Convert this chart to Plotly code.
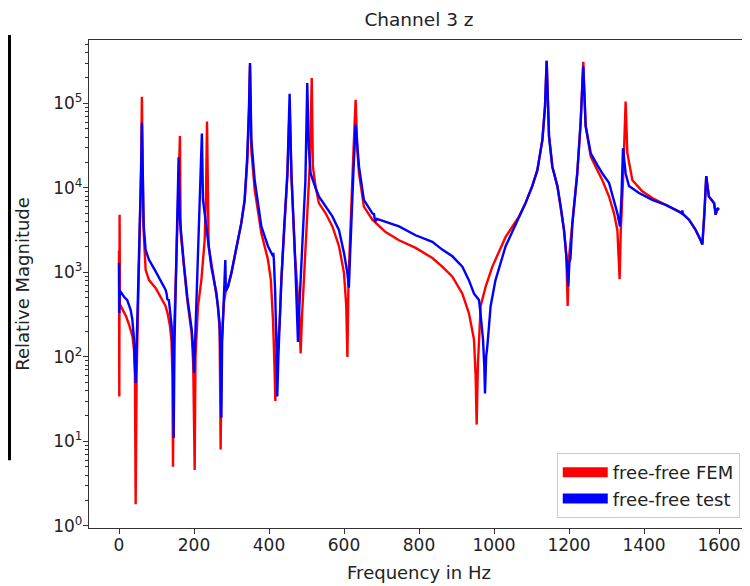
import plotly.graph_objects as go

# ---- data (frequency in Hz, relative magnitude) ----
fem_freq = [0, 0.8, 1.6, 2.4, 5, 10, 19, 27, 36, 40, 42.5, 44.4, 47, 52, 56, 59, 61, 63, 65, 71, 80, 98,
            115.6, 124, 129.5, 136, 140, 142.5, 144, 147, 152, 157, 160, 162.5, 164.4, 173, 182, 193.8,
            198, 201.8, 204, 210.7, 219.6, 228.4, 232, 234.7, 237, 239, 250.7, 264, 268.4, 271, 274, 280,
            286, 290.7, 299.6, 312.9, 326, 335, 342, 346.7, 349.3, 352.9, 361.8, 379.6, 397.3, 405, 411,
            414.5, 416.9, 420, 428.4, 432.9, 440, 449, 455, 460, 468.4, 476, 481, 484.4, 488, 495, 503,
            509, 514, 517, 524, 533, 551, 569, 586.7, 600, 606, 609, 612, 618, 624, 631, 635.6, 640, 653,
            675.6, 711, 746.7, 791, 835.6, 862, 889, 915.6, 933, 946.7, 951, 953.8, 957, 964.4, 977.8,
            995.6, 1031, 1067, 1084, 1102, 1115.6, 1129, 1136, 1140.4, 1146.7, 1155.6, 1169, 1178, 1186.7,
            1193, 1196.4, 1200, 1209, 1222, 1231, 1238, 1244.4, 1258, 1275.6, 1289, 1306.7, 1320, 1329,
            1333, 1335, 1338, 1344, 1351, 1355.6, 1369, 1395.6, 1422, 1458, 1493, 1502, 1520, 1538, 1551,
            1555.6, 1561, 1566, 1573, 1580, 1587, 1591, 1595.6, 1600]
fem_mag = [1800, 34, 4800, 420, 395, 360, 300, 240, 174, 121, 60, 1.8, 60, 600, 3000, 20000, 120000, 20000,
           3500, 1070, 810, 650, 470, 400, 330, 230, 150, 60, 5, 200, 1000, 5000, 15000, 41000, 3000, 1170,
           470, 190, 80, 4.6, 100, 400, 810, 2400, 8000, 61000, 6000, 2050, 980, 400, 200, 8, 150, 450,
           650, 680, 980, 2040, 3800, 7000, 20000, 80000, 280000, 28000, 9500, 2900, 1410, 810, 250,
           80, 30, 100, 250, 810, 3000, 14000, 90000, 14000, 1800, 700, 300, 110, 300, 1200, 5000,
           20000, 200000, 18000, 10500, 6600, 5000, 3500, 2040, 980, 400, 100, 800, 5000, 20000, 110000,
           28000, 14800, 6000, 4200, 3000, 2400, 1950, 1480, 1170, 890, 560, 330, 160, 60, 15.8, 80, 400,
           680, 1170, 2630, 4600, 6600, 10500, 16200, 37000, 91000, 320000, 41000, 17800, 10500, 6000,
           3160, 1550, 400, 1500, 3800, 14800, 59000, 310000, 54000, 23400, 16200, 12300, 7900, 5000,
           3160, 1500, 830, 3000, 12000, 105000, 25700, 12300, 9100, 7600, 6300, 5250, 5000, 4200, 3160,
           2400, 2140, 5000, 13800, 7900, 7200, 6600, 4800, 5750, 5500]

test_freq = [0, 0.8, 1.6, 4.4, 13.3, 22, 31, 35.6, 40, 44.4, 48, 52, 56, 59, 61, 63, 66, 71, 80, 98, 115.6,
             124.4, 127, 128.9, 133, 140.4, 143.5, 145.8, 148, 152, 156, 159, 162, 164.4, 173, 182, 193.8,
             198, 200, 203, 207, 212, 217, 221, 224, 228.4, 235, 246, 259.6, 268.4, 271, 272.9, 275, 279,
             282, 283.5, 285, 290.7, 299.6, 312.9, 326, 335, 342, 346.7, 349.3, 352.9, 361.8, 379.6, 397.3,
             410.7, 411.5, 413, 416.5, 420, 422, 425, 428.4, 432.9, 440, 449, 455, 459.6, 468.4, 472, 477.3,
             481, 486, 492, 497, 502, 506, 511, 517, 524, 533, 551, 569, 586.7, 600, 609, 613, 616, 620, 625,
             631, 635.6, 640, 653, 675.6, 680, 683, 688, 711, 746.7, 791, 835.6, 862, 889, 915.6, 933, 946.7,
             960, 964, 970.7, 974, 976, 979, 982, 991, 1004, 1031, 1067, 1084, 1102, 1115.6, 1129, 1136,
             1140.4, 1146.7, 1155.6, 1169, 1178, 1186.7, 1193, 1198, 1201, 1204, 1209, 1222, 1231, 1238,
             1244.4, 1258, 1275.6, 1289, 1306.7, 1320, 1329, 1336, 1340, 1344, 1351, 1360, 1386.7, 1422,
             1458, 1493, 1500, 1502, 1504, 1520, 1538, 1551, 1555.6, 1561, 1566, 1573, 1580, 1587, 1591,
             1595.6, 1600]
test_mag = [1300, 330, 600, 590, 515, 470, 360, 275, 160, 49, 200, 800, 3500, 15000, 59000, 15000, 3500,
            1850, 1410, 1020, 740, 620, 560, 480, 470, 230, 100, 11, 150, 1000, 5000, 23000, 4500, 3200,
            1250, 520, 210, 120, 65, 150, 600, 2500, 10000, 44000, 7200, 5000, 2700, 1170, 575, 250, 80,
            19, 150, 400, 700, 1400, 600, 680, 980, 2040, 3800, 7200, 23400, 91000, 300000, 37000, 12300,
            3500, 2040, 1550, 1700, 1400, 575, 120, 34, 100, 250, 810, 3160, 14800, 130000, 14800, 2040,
            620, 150, 400, 1200, 3500, 12000, 174000, 30000, 14800, 12000, 10000, 7900, 6000, 4600, 3160,
            1700, 980, 660, 1500, 5000, 15000, 56000, 30000, 17800, 7200, 5000, 4900, 4000, 4300, 4000,
            3500, 2750, 2300, 1860, 1550, 1170, 810, 560, 470, 330, 160, 80, 37, 100, 130, 400, 810, 2040,
            4600, 6600, 10500, 16200, 37000, 91000, 320000, 41000, 17800, 10500, 6000, 3160, 1550, 680,
            1300, 1480, 3800, 14800, 59000, 275000, 54000, 25700, 18600, 14800, 11500, 7200, 5000, 3500,
            8000, 29500, 14800, 10500, 8700, 7200, 6300, 5250, 5000, 5400, 4900, 4200, 3160, 2400, 2140,
            5000, 13800, 7900, 7200, 6600, 4800, 5750, 5500]

series_names = ["free-free FEM", "free-free test"]
series_colors = ["#ff0000", "#0000ff"]

x_ticks = [0, 200, 400, 600, 800, 1000, 1200, 1400, 1600]
y_ticks = [1, 10, 100, 1000, 10000, 100000]
y_ticktext = ["10<sup>0</sup>", "10<sup>1</sup>", "10<sup>2</sup>", "10<sup>3</sup>",
              "10<sup>4</sup>", "10<sup>5</sup>"]

FONT = "DejaVu Sans"
TXT = "#222222"

fig = go.Figure()
for fx, fy, name, col in [(fem_freq, fem_mag, series_names[0], series_colors[0]),
                          (test_freq, test_mag, series_names[1], series_colors[1])]:
    fig.add_trace(go.Scatter(x=fx, y=fy, mode="lines", line=dict(color=col, width=2.4),
                             showlegend=False, hoverinfo="skip"))
# legend entries drawn as patches
for name, col in zip(series_names, series_colors):
    fig.add_trace(go.Scatter(x=[None], y=[None], mode="lines", name=name,
                             line=dict(color=col, width=13)))

minor_vals = [m * 10 ** e for e in range(0, 6) for m in range(2, 10) if m * 10 ** e < 5.7e5]

# the page body adds an 8px offset, so the figure is 8px smaller and margins compensate
fig.update_layout(
    width=742, height=578,
    margin=dict(l=81, r=1, t=32, b=58, autoexpand=False),
    paper_bgcolor="white", plot_bgcolor="white",
    font=dict(family=FONT, size=17, color=TXT),
    title=dict(text="Channel 3 z", x=0.5539, xanchor="center", y=0.9792, yanchor="middle",
               font=dict(family=FONT, size=18.5, color=TXT)),
    legend=dict(x=0.986, y=0.0205, xanchor="right", yanchor="bottom",
                bgcolor="rgba(255,255,255,0.85)", bordercolor="#cccccc", borderwidth=1,
                font=dict(family=FONT, size=18, color=TXT), itemwidth=45),
    showlegend=True,
)
fig.update_xaxes(range=[-80, 1680], tickvals=x_ticks, ticks="outside", ticklen=5, tickwidth=1.2,
                 tickcolor="#333", showline=True, linecolor="#333", linewidth=1.3, mirror=True,
                 showgrid=False, zeroline=False, automargin=False, ticklabelstandoff=-4,
                 title=dict(text="Frequency in Hz", font=dict(family=FONT, size=18, color=TXT), standoff=12))
fig.update_yaxes(type="log", range=[-0.025, 5.75], tickvals=y_ticks, ticktext=y_ticktext,
                 ticks="outside", ticklen=5, tickwidth=1.2, tickcolor="#333",
                 minor=dict(tickvals=minor_vals, ticks="outside", ticklen=3, tickwidth=0.9, tickcolor="#333",
                            showgrid=False),
                 showline=True, linecolor="#333", linewidth=1.3, mirror=True,
                 showgrid=False, zeroline=False, automargin=False, ticklabelstandoff=-3,
                 title=dict(text="Relative Magnitude", font=dict(family=FONT, size=18, color=TXT), standoff=18))

# dark strip at the far left edge of the reference image
fig.add_shape(type="rect", xref="paper", yref="paper", x0=-0.1227, x1=-0.1182, y0=0.139, y1=1.0102,
              fillcolor="black", line=dict(width=0), layer="above")

fig.write_html("out.html")
